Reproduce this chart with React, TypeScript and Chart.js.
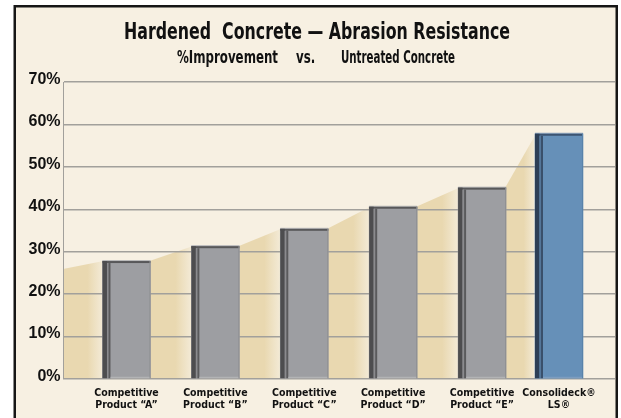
import React, { useEffect, useRef } from "react";
import { Chart, registerables } from "chart.js";

Chart.register(...registerables);

// ---- data ----
const categories: string[][] = [
  ["Competitive", "Product \u201CA\u201D"],
  ["Competitive", "Product \u201CB\u201D"],
  ["Competitive", "Product \u201CC\u201D"],
  ["Competitive", "Product \u201CD\u201D"],
  ["Competitive", "Product \u201CE\u201D"],
  ["Consolideck\u00AE", "LS\u00AE"],
];
const improvement: number[] = [27.8, 31.3, 35.4, 40.6, 45.1, 57.8];
const slots: number[] = [0, 1, 2, 3, 4, 4.865];
const areaStart = 25.9;
const yTicks: number[] = [0, 10, 20, 30, 40, 50, 60, 70];
const titleText = "Hardened  Concrete \u2014 Abrasion Resistance";
const subtitleParts: string[] = ["%Improvement", "vs.", "Untreated Concrete"];

const NARROW = '"Liberation Sans Narrow", "DejaVu Sans Condensed", "Liberation Sans", sans-serif';
const CREAM = "#f7f0e2";
const BEIGE = "#e9d8b0";
const BEIGE_LIGHT = "#f3ead6";

function drawScaled(ctx: CanvasRenderingContext2D, text: string, x: number, y: number, sx: number) {
  ctx.save();
  ctx.translate(x, y);
  ctx.scale(sx, 1);
  ctx.fillText(text, 0, 0);
  ctx.restore();
}

const decorPlugin = {
  id: "decor",
  beforeDraw(chart: any) {
    const ctx: CanvasRenderingContext2D = chart.ctx;
    const { width, height } = chart;
    ctx.save();
    ctx.fillStyle = "#ffffff";
    ctx.fillRect(0, 0, width, height);
    // frame
    ctx.fillStyle = CREAM;
    ctx.fillRect(15, 7, 601, height);
    ctx.strokeStyle = "#161616";
    ctx.lineWidth = 2.5;
    ctx.strokeRect(14.75, 6.25, 602, height + 20);

    // titles
    ctx.fillStyle = "#111111";
    ctx.textBaseline = "alphabetic";
    ctx.textAlign = "left";
    ctx.font = "bold 23px " + NARROW;
    drawScaled(ctx, titleText, 124, 39, 386 / ctx.measureText(titleText).width);
    ctx.font = "bold 17px " + NARROW;
    const s = 101 / ctx.measureText(subtitleParts[0]).width;
    drawScaled(ctx, subtitleParts[0], 177, 63, s);
    drawScaled(ctx, subtitleParts[1], 296, 63, s);
    drawScaled(ctx, subtitleParts[2], 341, 63, 114 / ctx.measureText(subtitleParts[2]).width);

    // beige area connecting bar tops
    const meta = chart.getDatasetMeta(0);
    const yScale = chart.scales.y;
    const area = chart.chartArea;
    const base = yScale.getPixelForValue(0);
    let prevX = area.left;
    let prevY = yScale.getPixelForValue(areaStart);
    meta.data.forEach((el: any) => {
      const p = el.getProps(["x", "y", "width"], true);
      const l = p.x - p.width / 2;
      const grad = ctx.createLinearGradient(prevX, 0, l, 0);
      grad.addColorStop(0, BEIGE);
      grad.addColorStop(0.62, BEIGE);
      grad.addColorStop(1, BEIGE_LIGHT);
      ctx.fillStyle = grad;
      ctx.beginPath();
      ctx.moveTo(prevX, prevY);
      ctx.lineTo(l + 1, p.y);
      ctx.lineTo(l + 1, base);
      ctx.lineTo(prevX, base);
      ctx.closePath();
      ctx.fill();
      prevX = p.x + p.width / 2 - 1;
      prevY = p.y;
    });
    ctx.restore();
  },
  afterDatasetsDraw(chart: any) {
    const ctx: CanvasRenderingContext2D = chart.ctx;
    const meta = chart.getDatasetMeta(0);
    const n = meta.data.length;
    meta.data.forEach((el: any, i: number) => {
      const p = el.getProps(["x", "y", "width", "base"], true);
      const l = p.x - p.width / 2;
      const r = p.x + p.width / 2;
      const h = p.base - p.y;
      const blue = i === n - 1;
      ctx.save();
      ctx.fillStyle = blue ? "#8aa3bd" : "#b9b9bb";
      ctx.fillRect(l, p.y - 1, p.width, 1);
      ctx.fillStyle = blue ? "#3c5472" : "#58585a";
      ctx.fillRect(l, p.y, p.width, 2);
      ctx.fillStyle = blue ? "#2d3f56" : "#4d4d4f";
      ctx.fillRect(l, p.y, 4.5, h);
      ctx.fillStyle = blue ? "#56779a" : "#8b8b8e";
      ctx.fillRect(l + 4.5, p.y + 2, 1.5, h - 2);
      ctx.fillStyle = blue ? "#3a506b" : "#5a5a5c";
      ctx.fillRect(l + 6, p.y + 2, 2, h - 2);
      ctx.fillStyle = blue ? "#5a83aa" : "#8e8f92";
      ctx.fillRect(r - 1, p.y, 1, h);
      ctx.fillStyle = blue ? "#7c9dc0" : "#b2b3b5";
      ctx.fillRect(l + 8, p.base - 1.5, p.width - 9, 1.5);
      ctx.restore();
    });
  },
};

export default function App() {
  const ref = useRef<HTMLCanvasElement | null>(null);
  useEffect(() => {
    if (!ref.current) return;
    const colors = improvement.map((_, i) => (i === improvement.length - 1 ? "#6690b8" : "#9d9ea2"));
    const chart = new Chart(ref.current, {
      type: "bar",
      data: {
        datasets: [
          {
            data: improvement.map((v, i) => ({ x: slots[i], y: v })),
            backgroundColor: colors,
            borderWidth: 0,
            barThickness: 48,
          },
        ],
      },
      options: {
        animation: false,
        responsive: false,
        devicePixelRatio: 1,
        layout: { padding: { top: 82, right: 6, left: 0, bottom: 0 } },
        plugins: { legend: { display: false }, title: { display: false }, tooltip: { enabled: false } },
        scales: {
          x: {
            type: "linear",
            offset: false,
            min: -0.714,
            max: 5.495,
            grid: { display: false, drawTicks: false, offset: false },
            border: { display: false },
            afterBuildTicks: (scale: any) => {
              scale.ticks = slots.map((v) => ({ value: v }));
            },
            afterFit: (scale: any) => {
              scale.height = 39;
            },
            ticks: {
              autoSkip: false,
              maxRotation: 0,
              padding: 8.5,
              color: "#111111",
              font: { family: NARROW, size: 10.5, weight: "bold", lineHeight: 1.15 },
              callback: (_v: any, i: number) => categories[i],
            },
          },
          y: {
            min: 0,
            max: 70,
            afterBuildTicks: (scale: any) => {
              scale.ticks = yTicks.map((v) => ({ value: v }));
            },
            afterFit: (scale: any) => {
              scale.width = 63;
            },
            grid: { color: "#a2a09b", lineWidth: 1.5, drawTicks: false },
            border: { display: true, color: "#a2a09b", width: 1 },
            ticks: {
              padding: 2.5,
              labelOffset: -2.5,
              color: "#111111",
              font: { family: '"Liberation Sans", Arial, sans-serif', size: 16, weight: "bold" },
              callback: (v: any) => v + "%",
            },
          },
        },
      },
      plugins: [decorPlugin],
    } as any);
    return () => chart.destroy();
  }, []);
  return (
    <div style={{ position: "absolute", left: 0, top: 0, width: 621, height: 418 }}>
      <canvas ref={ref} width={621} height={418} style={{ width: 621, height: 418, display: "block" }} />
    </div>
  );
}
